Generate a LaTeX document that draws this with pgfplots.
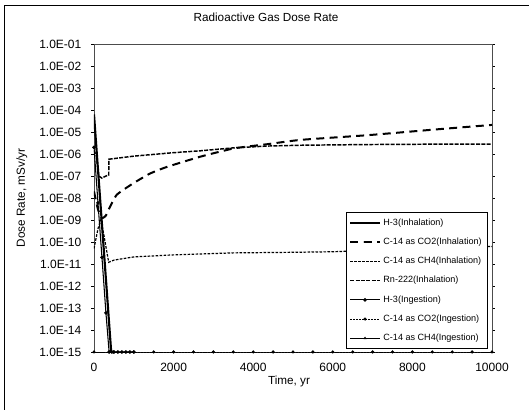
\documentclass[border=0pt]{standalone}
\usepackage{fontspec}
\setmainfont{Liberation Sans}
\usepackage{pgfplots}
\pgfplotsset{compat=1.18}
\begin{document}
\begin{tikzpicture}
\useasboundingbox (-70.5pt,-43.5pt) rectangle (326.25pt,264pt);
\draw[line width=0.6pt] (-67.5pt,-43.5pt) -- (-67.5pt,260.25pt) -- (326.25pt,260.25pt);
\node[font=\fontsize{8.8}{10}\selectfont] at (129pt,251pt) {Radioactive Gas Dose Rate};
\begin{axis}[
  scale only axis,
  width=298.5pt, height=231pt,
  ymode=log,
  xmin=0, xmax=10000,
  ymin=1e-15, ymax=1e-1,
  xtick={0,2000,4000,6000,8000,10000},
  scaled x ticks=false,
  ytick={1e-15,1e-14,1e-13,1e-12,1e-11,1e-10,1e-9,1e-8,1e-7,1e-6,1e-5,1e-4,1e-3,1e-2,1e-1},
  yticklabels={1.0E-15,1.0E-14,1.0E-13,1.0E-12,1.0E-11,1.0E-10,1.0E-09,1.0E-08,1.0E-07,1.0E-06,1.0E-05,1.0E-04,1.0E-03,1.0E-02,1.0E-01},
  minor tick num=0,
  yminorticks=false,
  tick align=outside,
  major tick length=2pt,
  x tick style={draw=none},
  tick style={black, line width=0.5pt},
  axis line style={line width=0.5pt, black!70},
  /pgf/number format/1000 sep={},
  /pgf/number format/assume math mode=true,
  tick label style={font=\fontsize{9}{10}\selectfont},
  xticklabel style={yshift=-3pt},
  yticklabel style={xshift=-4pt},
  xlabel={Time, yr},
  ylabel={Dose Rate, mSv/yr},
  xlabel style={font=\fontsize{8.8}{10}\selectfont, at={(axis description cs:0.49,-0.097)}, anchor=center},
  ylabel style={font=\fontsize{8.8}{10}\selectfont, at={(axis description cs:-0.181,0.5)}, anchor=center, rotate=0},
  legend style={at={(axis description cs:0.99,0.01)}, anchor=south east,
    font=\fontsize{6.8}{8}\selectfont, draw=black, line width=0.5pt, fill=white,
    row sep=4pt, inner sep=2.5pt, cells={anchor=west}},
  legend cell align=left,
  legend image code/.code={\draw[#1,mark repeat=2,mark phase=2] plot coordinates {(0pt,0pt) (11pt,0pt) (22pt,0pt)};},
]
% H-3 (Inhalation)
\addplot[black, line width=1.6pt, no markers] coordinates {
(0,6.3e-5) (50,3.5e-6) (100,2.0e-7) (200,6.3e-10) (300,2.0e-12) (400,6.3e-15) (432,1e-15) (450,4e-16)
};
\addlegendentry{H-3(Inhalation)}
% C-14 as CO2 (Inhalation)
\addplot[black, line width=1.5pt, dash pattern=on 6pt off 4pt, no markers, smooth, tension=0.3] coordinates {
(0,2e-8) (100,3e-9) (200,1.2e-9) (300,1.6e-9) (360,2.8e-9) (572,1.4e-8) (990,4.7e-8) (1410,1.3e-7) (1835,2.6e-7) (2677,7.6e-7) (3516,1.8e-6) (4360,2.8e-6) (5200,4.4e-6) (6890,7.2e-6) (8570,1.3e-5) (10000,2.1e-5)
};
\addlegendentry{C-14 as CO2(Inhalation)}
% C-14 as CH4 (Inhalation)
\addplot[black, line width=0.9pt, dash pattern=on 2pt off 1pt, no markers] coordinates {
(0,5e-11) (100,4e-10) (170,1e-9) (250,2e-10) (330,3e-11) (370,1.2e-11) (500,1.5e-11) (1000,2.1e-11) (2000,2.6e-11) (3500,3.2e-11) (5000,3.4e-11) (6000,3.6e-11) (7000,4.2e-11) (8000,4.8e-11) (9000,5.5e-11) (10000,6.3e-11)
};
\addlegendentry{C-14 as CH4(Inhalation)}
% Rn-222 (Inhalation)
\addplot[black, line width=1.1pt, dash pattern=on 3pt off 1pt, no markers] coordinates {
(0,1.5e-6) (60,8e-7) (120,1e-7) (200,8e-8) (300,1e-7) (370,1.1e-7) (375,5.8e-7) (1000,8e-7) (2000,1.15e-6) (2677,1.4e-6) (3500,1.9e-6) (4360,2.3e-6) (5200,2.5e-6) (6040,2.6e-6) (7000,2.7e-6) (8570,2.8e-6) (10000,2.8e-6)
};
\addlegendentry{Rn-222(Inhalation)}
% H-3 (Ingestion)
\addplot[black, line width=0.8pt, mark=*, mark size=0.9pt] coordinates {
(0,2e-6) (100,6e-9) (200,2e-11) (300,6e-14) (380,1e-15) (450,1e-15) (500,1e-15) (600,1e-15) (700,1e-15) (800,1e-15) (900,1e-15) (1000,1e-15)
};
\addlegendentry{H-3(Ingestion)}
% C-14 as CO2 (Ingestion)
\addplot[black, line width=0.5pt, dash pattern=on 1.5pt off 0.7pt, mark=*, mark size=0.9pt, mark options={solid}] coordinates {
(0,1e-15) (500,1e-15) (1000,1e-15) (1500,1e-15) (2000,1e-15) (2500,1e-15) (3000,1e-15) (3500,1e-15) (4000,1e-15) (4500,1e-15) (5000,1e-15) (5500,1e-15) (6000,1e-15) (6500,1e-15) (7000,1e-15) (7500,1e-15) (8000,1e-15) (8500,1e-15) (9000,1e-15) (9500,1e-15) (10000,1e-15)
};
\addlegendentry{C-14 as CO2(Ingestion)}
% C-14 as CH4 (Ingestion)
\addplot[black, line width=0.4pt, mark=triangle*, mark size=0.9pt] coordinates {
(0,1e-15) (500,1e-15) (1000,1e-15) (1500,1e-15) (2000,1e-15) (2500,1e-15) (3000,1e-15) (3500,1e-15) (4000,1e-15) (4500,1e-15) (5000,1e-15) (5500,1e-15) (6000,1e-15) (6500,1e-15) (7000,1e-15) (7500,1e-15) (8000,1e-15) (8500,1e-15) (9000,1e-15) (9500,1e-15) (10000,1e-15)
};
\addlegendentry{C-14 as CH4(Ingestion)}
\end{axis}
\end{tikzpicture}
\end{document}
